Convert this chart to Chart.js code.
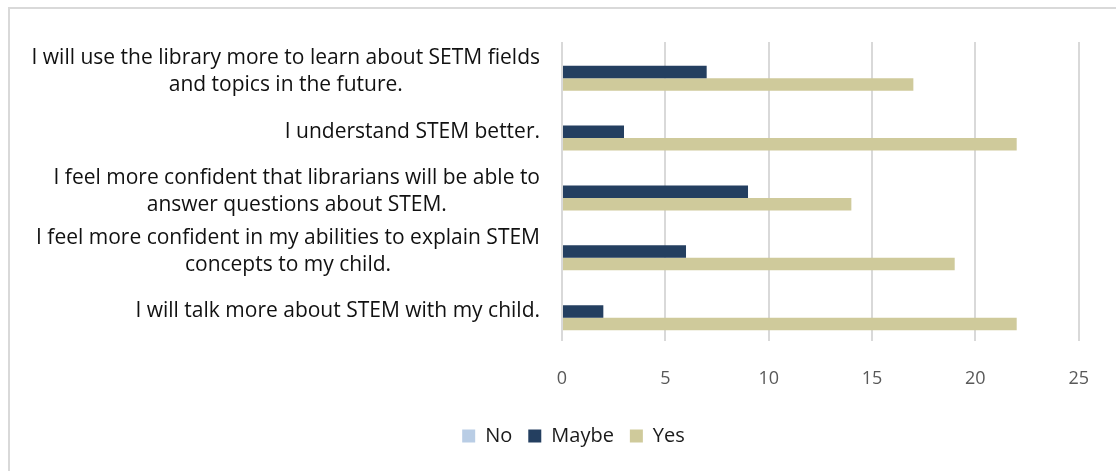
<!DOCTYPE html>
<html>
<head>
<meta charset="utf-8">
<script src="https://cdn.jsdelivr.net/npm/chart.js@4.4.1/dist/chart.umd.min.js"></script>
<style>
  html, body { margin: 0; padding: 0; background: #fff; }
  #wrap { position: relative; width: 1116px; height: 471px; overflow: hidden; }
  #frame {
    position: absolute; left: 8px; top: 7px; width: 1200px; height: 600px;
    border-left: 2px solid #d9d9d9; border-top: 2px solid #d9d9d9;
    pointer-events: none;
  }
  canvas { position: absolute; left: 0; top: 0; }
</style>
</head>
<body>
<div id="wrap">
  <canvas id="myCanvas" width="1116" height="471"></canvas>
  <div id="frame"></div>
</div>
<script>
const statements = [
  ['I will use the library more to learn about SETM fields', 'and topics in the future.'],
  ['I understand STEM better.'],
  ['I feel more confident that librarians will be able to', 'answer questions about STEM.'],
  ['I feel more confident in my abilities to explain STEM', 'concepts to my child.'],
  ['I will talk more about STEM with my child.']
]
const noData = [0, 0, 0, 0, 0]
const maybeData = [7, 3, 9, 6, 2]
const yesData = [17, 22, 14, 19, 22]
const xTicks = [0, 5, 10, 15, 20, 25]

const labelFont = '21px "Open Sans"'
const lineHeight = 27

// category labels: block right-aligned to the axis, lines centred on each other
const statementLabels = {
  id: 'statementLabels',
  afterDraw(chart) {
    const ctx = chart.ctx
    const yScale = chart.scales.y
    ctx.save()
    ctx.font = labelFont
    ctx.fillStyle = '#111'
    ctx.textAlign = 'center'
    ctx.textBaseline = 'middle'
    statements.forEach((lines, i) => {
      const widest = Math.max(...lines.map(l => ctx.measureText(l).width))
      const cx = yScale.right - 22 - widest / 2
      const cy = yScale.getPixelForValue(i)
      const top = cy - (lines.length - 1) * lineHeight / 2
      lines.forEach((line, k) => ctx.fillText(line, cx, top + k * lineHeight))
    })
    ctx.restore()
  }
}

document.addEventListener('DOMContentLoaded', () => {
  const context = document.getElementById('myCanvas').getContext('2d')

  new Chart(context, {
    type: 'bar',
    data: {
      labels: statements.map(s => s.join(' ')),
      datasets: [
        { label: 'No', data: noData, backgroundColor: '#b9cde5' },
        { label: 'Maybe', data: maybeData, backgroundColor: '#243f60' },
        { label: 'Yes', data: yesData, backgroundColor: '#cfca9b' }
      ]
    },
    options: {
      indexAxis: 'y',
      responsive: false,
      animation: false,
      datasets: {
        bar: { categoryPercentage: 0.625, barPercentage: 1 }
      },
      layout: { padding: { left: 67, right: 36, top: 42, bottom: 15 } },
      plugins: {
        tooltip: { enabled: false },
        legend: {
          position: 'bottom',
          labels: {
            boxWidth: 13,
            boxHeight: 13,
            padding: 16,
            color: '#1a1a1a',
            font: { family: 'Open Sans', size: 20 }
          }
        }
      },
      scales: {
        x: {
          min: 0,
          max: 25,
          afterBuildTicks: (scale) => { scale.ticks = xTicks.map(v => ({ value: v })) },
          afterFit: (scale) => { scale.height -= 7 },
          grid: { color: '#d9d9d9', lineWidth: 2, drawTicks: false },
          border: { display: false },
          ticks: { color: '#595959', padding: 27, font: { family: 'Open Sans', size: 18 } }
        },
        y: {
          grid: { display: false },
          border: { display: false },
          ticks: { callback: () => '' },
          afterFit: (scale) => { scale.width = 495 }
        }
      }
    },
    plugins: [statementLabels]
  })
})
</script>
</body>
</html>
